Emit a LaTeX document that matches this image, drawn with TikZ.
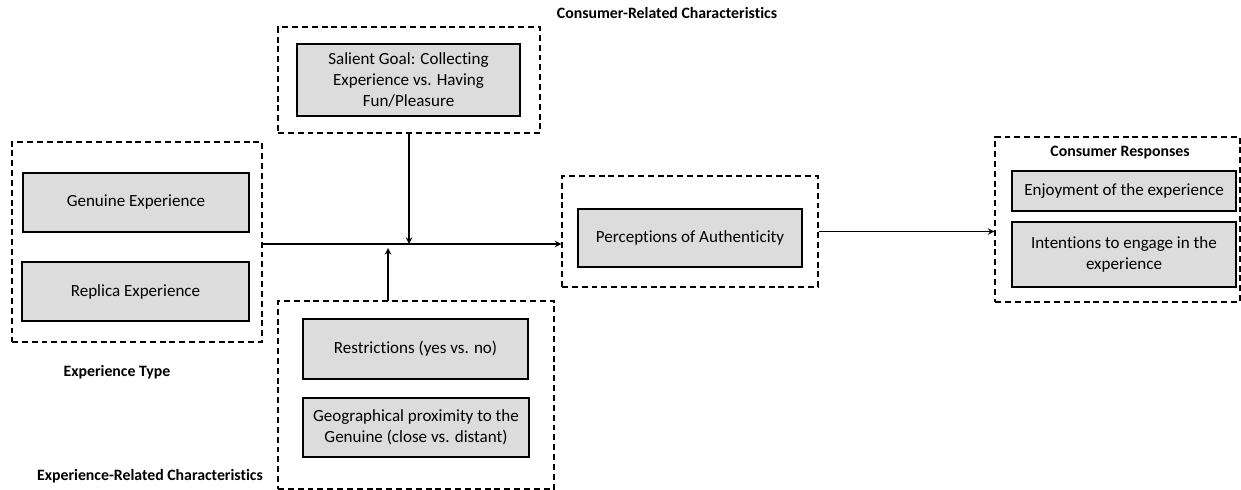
\documentclass[tikz,border=0pt]{standalone}
\usepackage{fontspec}
\setmainfont[Ligatures=NoCommon]{Carlito}
\usepackage{tikz}
\usetikzlibrary{positioning}

\definecolor{boxgray}{HTML}{DCDCDC}

\tikzset{
  groupbox/.style={draw, dash pattern=on 3.4pt off 2.2pt, line width=0.6pt, inner sep=0pt},
  itembox/.style={draw, fill=boxgray, line width=0.6pt, align=center, inner sep=0pt},
  grouplabel/.style={font=\fontsize{9}{11}\selectfont\bfseries, inner sep=0pt}
}

\begin{document}
\begin{tikzpicture}[>=stealth, x=0.02cm, y=-0.02cm, font=\fontsize{9.7}{12.2}\selectfont]
            \useasboundingbox (0,0) rectangle (1241,490);

            % Experience type
            \node[groupbox, minimum width=250*0.02cm, minimum height=200*0.02cm] (typebox) at (137,242) {};
            \node[itembox, minimum width=226*0.02cm, minimum height=59*0.02cm] (genuine) at (136,202.5) {Genuine Experience};
            \node[itembox, minimum width=227*0.02cm, minimum height=59*0.02cm] (replica) at (135.5,291.5) {Replica Experience};
            \node[grouplabel] (typelabel) at (117,372) {Experience Type};

            % Consumer-related characteristics
            \node[grouplabel] (conlabel) at (667,13) {Consumer-Related Characteristics};
            \node[groupbox, minimum width=262*0.02cm, minimum height=106*0.02cm] (conbox) at (409,80) {};
            \node[itembox, minimum width=223*0.02cm, minimum height=72*0.02cm] (goal) at (408.5,80) {Salient Goal: Collecting\\Experience vs. Having\\Fun/Pleasure};

            % Experience-related characteristics
            \node[groupbox, minimum width=276*0.02cm, minimum height=188*0.02cm] (expbox) at (416,395) {};
            \node[itembox, minimum width=225*0.02cm, minimum height=60*0.02cm] (restrict) at (415.5,349) {Restrictions (yes vs. no)};
            \node[itembox, minimum width=226*0.02cm, minimum height=59*0.02cm] (geo) at (416,427.5) {Geographical proximity to the\\Genuine (close vs. distant)};
            \node[grouplabel] (explabel) at (150,476) {Experience-Related Characteristics};

            % Perceptions
            \node[groupbox, minimum width=256*0.02cm, minimum height=111*0.02cm] (percbox) at (690,231.5) {};
            \node[itembox, minimum width=224*0.02cm, minimum height=58*0.02cm] (perc) at (690,238) {Perceptions of Authenticity};

            % Consumer responses
            \node[groupbox, minimum width=245*0.02cm, minimum height=165*0.02cm] (respbox) at (1117.5,219.5) {};
            \node[grouplabel] (resplabel) at (1120,153) {Consumer Responses};
            \node[itembox, minimum width=224*0.02cm, minimum height=40*0.02cm] (enjoy) at (1124,191) {Enjoyment of the experience};
            \node[itembox, minimum width=224*0.02cm, minimum height=65*0.02cm] (intent) at (1124,254.5) {Intentions to engage in the\\experience};

            \coordinate (mainin) at (262,244);
            \coordinate (modup) at (388,301);
            \coordinate (modmeet) at (388,248);

            % Connections
            \draw[->, line width=0.7pt] (mainin) -- (mainin -| percbox.west);
            \draw[->, line width=0.7pt] (conbox.south) -- (conbox.south |- mainin);
            \draw[->, line width=0.7pt] (modup) -- (modmeet);
            \draw[->, line width=0.7pt] (percbox.east) -- (percbox.east -| respbox.west);
        \end{tikzpicture}
\end{document}
